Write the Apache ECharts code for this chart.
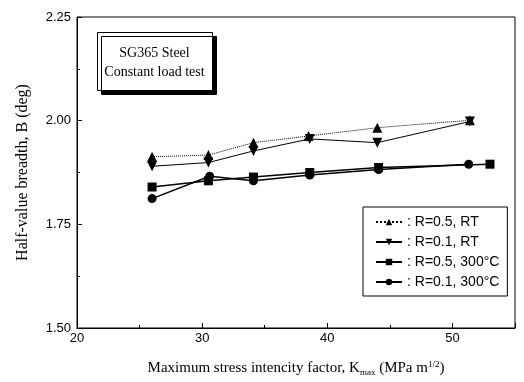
<!DOCTYPE html>
<html>
<head>
<meta charset="utf-8">
<script src="https://cdn.jsdelivr.net/npm/echarts@6/dist/echarts.min.js"></script>
<style>
    html, body {margin: 0; padding: 0; background: #fff;}
    #chart {width: 524px; height: 382px;}
</style>
</head>
<body>
<div id="chart"></div>
<script>
    // values
    var kR05RT = [26.0, 30.5, 34.1, 38.5, 44.0, 51.4];
    var bR05RT = [1.913, 1.917, 1.947, 1.963, 1.983, 2.001];
    var kR01RT = [26.0, 30.5, 34.1, 38.6, 44.0, 51.4];
    var bR01RT = [1.890, 1.899, 1.927, 1.956, 1.947, 1.998];
    var kR05HT = [26.0, 30.5, 34.1, 38.6, 44.1, 53.0];
    var bR05HT = [1.840, 1.855, 1.864, 1.875, 1.887, 1.895];
    var kR01HT = [26.0, 30.6, 34.1, 38.6, 44.1, 51.3];
    var bR01HT = [1.812, 1.866, 1.855, 1.869, 1.882, 1.895];
    var seriesNames = ['R=0.5, RT', 'R=0.1, RT', 'R=0.5, 300°C', 'R=0.1, 300°C'];
    var noteLines = ['SG365 Steel', 'Constant load test'];

    function pairs(xs, ys) {
        var out = [];
        for (var i = 0; i < xs.length; i++) out.push([xs[i], ys[i]]);
        return out;
    }

    var chart = echarts.init(document.getElementById('chart'));
    var serif = '"Liberation Serif", "Times New Roman", serif';
    var sans = '"Liberation Sans", Arial, sans-serif';

    function lineSeries(name, data, symbol, rotate, type, width, size) {
        return {
            name: name, type: 'line', data: data,
            symbol: symbol, symbolRotate: rotate, symbolSize: size,
            lineStyle: {color: '#000', width: width, type: type},
            itemStyle: {color: '#000'}
        };
    }

    var option = {
        animation: false,
        grid: {left: 77, right: 9, top: 17, bottom: 52, show: true, borderColor: '#000', borderWidth: 1},
        xAxis: {
            type: 'value', min: 20, max: 55, interval: 10,
            axisLine: {lineStyle: {color: '#000'}},
            axisTick: {inside: true, length: 5, lineStyle: {color: '#000'}},
            minorTick: {show: true, splitNumber: 2, length: 3, lineStyle: {color: '#000'}},
            splitLine: {show: false},
            axisLabel: {
                color: '#000', fontFamily: sans, fontSize: 13, margin: 4, showMaxLabel: false,
                formatter: function (v) { return v === 55 ? '' : v; }
            },
            name: '{t|Maximum stress intencity factor, K}{s|max}{t| (MPa m}{p|1/2}{t|)}',
            nameLocation: 'middle', nameGap: 32,
            nameTextStyle: {
                rich: {
                    t: {fontFamily: serif, fontSize: 15, color: '#000'},
                    s: {fontFamily: serif, fontSize: 9, color: '#000', verticalAlign: 'bottom', padding: [8, 0, 0, 0]},
                    p: {fontFamily: serif, fontSize: 9, color: '#000', verticalAlign: 'top', padding: [0, 0, 8, 0]}
                }
            }
        },
        yAxis: {
            type: 'value', min: 1.5, max: 2.25, interval: 0.25,
            axisLine: {lineStyle: {color: '#000'}},
            axisTick: {inside: true, length: 5, lineStyle: {color: '#000'}},
            minorTick: {show: true, splitNumber: 2, length: 3, lineStyle: {color: '#000'}},
            splitLine: {show: false},
            axisLabel: {
                color: '#000', fontFamily: sans, fontSize: 13, margin: 6,
                formatter: function (v) { return v.toFixed(2); }
            },
            name: 'Half-value breadth, B (deg)',
            nameLocation: 'middle', nameGap: 46,
            nameTextStyle: {fontFamily: serif, fontSize: 16, color: '#000'}
        },
        legend: {
            orient: 'vertical', left: 363, top: 207, width: 155,
            backgroundColor: '#fff', borderColor: '#000', borderWidth: 1,
            padding: [8, 8, 7, 12], itemGap: 6, itemWidth: 26, itemHeight: 8,
            textStyle: {fontFamily: sans, fontSize: 14, color: '#000'},
            formatter: function (name) { return ': ' + name; },
            data: seriesNames
        },
        series: [
            lineSeries(seriesNames[0], pairs(kR05RT, bR05RT), 'triangle', 0, 'dotted', 1, 10),
            lineSeries(seriesNames[1], pairs(kR01RT, bR01RT), 'triangle', 180, 'solid', 1, 10),
            lineSeries(seriesNames[2], pairs(kR05HT, bR05HT), 'rect', 0, 'solid', 1.5, 9),
            lineSeries(seriesNames[3], pairs(kR01HT, bR01HT), 'circle', 0, 'solid', 1.5, 9)
        ],
        graphic: [{
            type: 'group', left: 97, top: 32,
            children: [{
                type: 'rect', shape: {x: 0, y: 0, width: 115, height: 58},
                style: {fill: '#fff', stroke: '#000', lineWidth: 1,
                    shadowColor: '#000', shadowOffsetX: 4, shadowOffsetY: 4, shadowBlur: 0}
            }, {
                type: 'text', x: 57, y: 21,
                style: {text: noteLines[0], font: '14px ' + serif, fill: '#000', align: 'center', verticalAlign: 'middle'}
            }, {
                type: 'text', x: 57, y: 40,
                style: {text: noteLines[1], font: '14px ' + serif, fill: '#000', align: 'center', verticalAlign: 'middle'}
            }]
        }]
    };
    chart.setOption(option);
</script>
</body>
</html>
